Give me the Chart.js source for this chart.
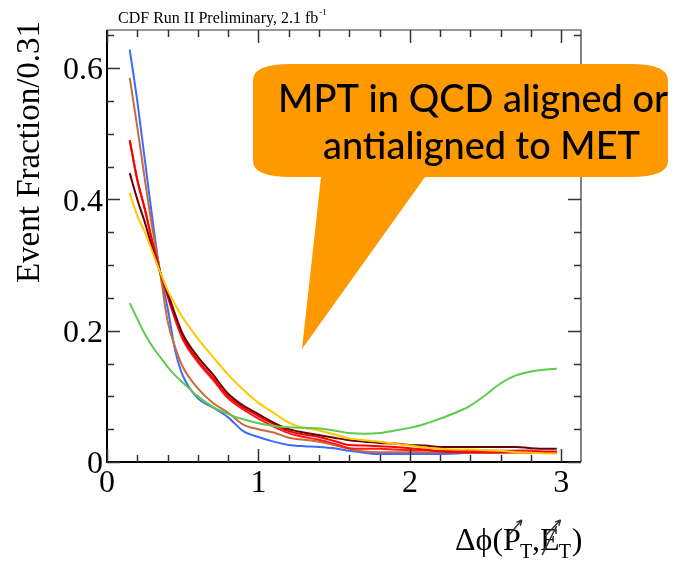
<!DOCTYPE html>
<html>
<head>
<meta charset="utf-8">
<script src="https://cdn.jsdelivr.net/npm/chart.js@4/dist/chart.umd.min.js"></script>
<style>
  html, body { margin: 0; padding: 0; background: #fff; }
  canvas { display: block; }
</style>
</head>
<body>
<canvas id="dphiChart" width="677" height="564"></canvas>
<script>
// delta-phi bin centres (shared by every sample)
const dphi = [0.15, 0.2, 0.25, 0.3, 0.35, 0.4, 0.45, 0.5, 0.6, 0.7, 0.8, 0.9, 1.0, 1.1, 1.2, 1.3, 1.4,
              1.5, 1.6, 1.7, 1.8, 1.9, 2.0, 2.1, 2.2, 2.3, 2.4, 2.5, 2.6, 2.7, 2.8, 2.9, 2.97];

// event fraction per sample
const blueFrac   = [0.628, 0.55, 0.46, 0.37, 0.29, 0.235, 0.17, 0.132, 0.097, 0.083, 0.068, 0.047, 0.038, 0.031, 0.026, 0.024, 0.023,
                    0.021, 0.017, 0.014, 0.012, 0.012, 0.012, 0.012, 0.012, 0.013, 0.014, 0.014, 0.015, 0.017, 0.017, 0.015, 0.015];
const brownFrac  = [0.585, 0.51, 0.43, 0.355, 0.29, 0.215, 0.175, 0.145, 0.112, 0.09, 0.075, 0.057, 0.05, 0.045, 0.037, 0.034, 0.031,
                    0.026, 0.02, 0.016, 0.015, 0.015, 0.015, 0.015, 0.015, 0.015, 0.014, 0.014, 0.014, 0.014, 0.014, 0.014, 0.014];
const redFrac    = [0.49, 0.43, 0.385, 0.335, 0.29, 0.255, 0.22, 0.19, 0.155, 0.128, 0.1, 0.083, 0.07, 0.058, 0.047, 0.042, 0.038,
                    0.032, 0.026, 0.025, 0.024, 0.023, 0.021, 0.019, 0.016, 0.015, 0.015, 0.015, 0.015, 0.015, 0.015, 0.015, 0.015];
const red2Frac   = [0.49, 0.43, 0.385, 0.335, 0.29, 0.252, 0.217, 0.187, 0.152, 0.125, 0.097, 0.08, 0.066, 0.054, 0.044, 0.038, 0.034,
                    0.028, 0.021, 0.02, 0.02, 0.019, 0.018, 0.018, 0.017, 0.017, 0.017, 0.017, 0.017, 0.017, 0.017, 0.016, 0.016];
const maroonFrac = [0.44, 0.4, 0.365, 0.325, 0.29, 0.258, 0.225, 0.195, 0.16, 0.133, 0.104, 0.086, 0.073, 0.06, 0.05, 0.045, 0.041,
                    0.037, 0.033, 0.031, 0.029, 0.028, 0.026, 0.025, 0.023, 0.023, 0.023, 0.023, 0.023, 0.023, 0.021, 0.02, 0.02];
const yellowFrac = [0.41, 0.375, 0.35, 0.32, 0.29, 0.262, 0.24, 0.22, 0.188, 0.16, 0.133, 0.11, 0.09, 0.075, 0.06, 0.052, 0.048,
                    0.042, 0.036, 0.033, 0.031, 0.028, 0.025, 0.022, 0.02, 0.019, 0.019, 0.018, 0.017, 0.015, 0.014, 0.013, 0.013];
const greenFrac  = [0.242, 0.218, 0.195, 0.176, 0.16, 0.145, 0.132, 0.121, 0.1, 0.084, 0.073, 0.065, 0.059, 0.055, 0.053, 0.052, 0.051,
                    0.048, 0.044, 0.043, 0.044, 0.048, 0.052, 0.058, 0.066, 0.075, 0.086, 0.102, 0.12, 0.132, 0.138, 0.141, 0.142];

// axis labels
const xTickLabels = ['0', '1', '2', '3'];
const yTickLabels = ['0', '0.2', '0.4', '0.6'];

const SERIF = '"Liberation Serif", "DejaVu Serif", serif';

function series(vals, color) {
    return {
        data: dphi.map((x, i) => ({x: x, y: vals[i]})),
        borderColor: color,
        borderWidth: 2,
        pointRadius: 0,
        cubicInterpolationMode: 'monotone',
        fill: false
    };
}

// draw the ROOT-style frame, inward ticks, labels, titles and the callout
const decorations = {
    id: 'decorations',
    afterDraw(chart) {
        const ctx = chart.ctx;
        const a = chart.chartArea;
        const xs = chart.scales.x, ys = chart.scales.y;
        ctx.save();

        // frame
        ctx.strokeStyle = '#000';
        ctx.lineWidth = 2;
        ctx.beginPath();
        ctx.moveTo(a.left, a.top); ctx.lineTo(a.left, a.bottom); ctx.lineTo(a.right, a.bottom);
        ctx.stroke();
        ctx.lineWidth = 1.2;
        ctx.strokeStyle = '#333';
        ctx.beginPath();
        ctx.moveTo(a.left, a.top); ctx.lineTo(a.right, a.top); ctx.lineTo(a.right, a.bottom);
        ctx.stroke();

        // x ticks (bottom and top), every 0.2
        ctx.lineWidth = 1.5;
        for (let k = 0; k <= 15; k++) {
            const v = k * 0.2;
            if (v > xs.max) break;
            const px = Math.round(xs.getPixelForValue(v)) + 0.5;
            const len = (k % 5 === 0) ? 13 : 7;
            ctx.beginPath();
            ctx.moveTo(px, a.bottom); ctx.lineTo(px, a.bottom - len);
            ctx.moveTo(px, a.top); ctx.lineTo(px, a.top + len);
            ctx.stroke();
        }
        // y ticks (left and right), every 0.05
        for (let k = 0; k <= 13; k++) {
            const v = k * 0.05;
            if (v > ys.max) break;
            const py = Math.round(ys.getPixelForValue(v)) + 0.5;
            const len = (k % 4 === 0) ? 13 : 7;
            ctx.beginPath();
            ctx.moveTo(a.left, py); ctx.lineTo(a.left + len, py);
            ctx.moveTo(a.right, py); ctx.lineTo(a.right - len, py);
            ctx.stroke();
        }

        // tick labels
        ctx.fillStyle = '#000';
        ctx.font = '32px ' + SERIF;
        ctx.textAlign = 'center';
        ctx.textBaseline = 'top';
        xTickLabels.forEach((t, i) => {
            ctx.fillText(t, xs.getPixelForValue(i), a.bottom + 6);
        });
        ctx.textAlign = 'right';
        ctx.textBaseline = 'middle';
        yTickLabels.forEach((t, i) => {
            ctx.fillText(t, a.left - 4, ys.getPixelForValue(i * 0.2) + 3);
        });

        // y title
        ctx.save();
        ctx.translate(30, 152);
        ctx.rotate(-Math.PI / 2);
        ctx.textAlign = 'center';
        ctx.textBaseline = 'middle';
        ctx.font = '33px ' + SERIF;
        ctx.fillText('Event Fraction/0.31', 0, 0);
        ctx.restore();

        // top caption
        ctx.textAlign = 'left';
        ctx.textBaseline = 'alphabetic';
        ctx.font = '16px ' + SERIF;
        ctx.fillText('CDF Run II Preliminary, 2.1 fb', 118, 23);
        let w = ctx.measureText('CDF Run II Preliminary, 2.1 fb').width;
        ctx.font = '9px ' + SERIF;
        ctx.fillText('-1', 118 + w + 1, 15);

        // x title: delta-phi(P_T vector, missing E_T vector)
        let cx = 455;
        const base = 550;
        ctx.font = '32px ' + SERIF;
        ctx.fillText('\u0394\u03d5(', cx, base);
        cx += ctx.measureText('\u0394\u03d5(').width;
        const pW = ctx.measureText('P').width;
        ctx.fillText('P', cx, base);
        drawArrow(ctx, cx + 5, base - 14, cx + pW + 1, base - 30);
        cx += pW;
        ctx.font = '20px ' + SERIF;
        ctx.fillText('T', cx - 1, base + 8);
        cx += ctx.measureText('T').width - 1;
        ctx.font = '32px ' + SERIF;
        ctx.fillText(',', cx, base);
        cx += ctx.measureText(',').width;
        const eW = ctx.measureText('E').width;
        ctx.fillText('E', cx, base);
        ctx.lineWidth = 1.6;
        ctx.beginPath();
        ctx.moveTo(cx + 2, base + 5); ctx.lineTo(cx + eW - 3, base - 24);
        ctx.stroke();
        drawArrow(ctx, cx + 5, base - 14, cx + eW + 1, base - 30);
        cx += eW;
        ctx.font = '20px ' + SERIF;
        ctx.fillText('T', cx - 1, base + 8);
        cx += ctx.measureText('T').width;
        ctx.font = '32px ' + SERIF;
        ctx.fillText(')', cx, base);

        // orange callout
        drawCallout(ctx);
        ctx.restore();
    }
};

function drawArrow(ctx, x1, y1, x2, y2) {
    const ang = Math.atan2(y2 - y1, x2 - x1);
    ctx.lineWidth = 1.4;
    ctx.beginPath();
    ctx.moveTo(x1, y1); ctx.lineTo(x2, y2);
    ctx.moveTo(x2, y2); ctx.lineTo(x2 - 6 * Math.cos(ang - 0.45), y2 - 6 * Math.sin(ang - 0.45));
    ctx.moveTo(x2, y2); ctx.lineTo(x2 - 6 * Math.cos(ang + 0.45), y2 - 6 * Math.sin(ang + 0.45));
    ctx.stroke();
}

function drawCallout(ctx) {
    const L = 253, R = 668, T = 64, B = 177, rx = 38, ry = 16;
    ctx.fillStyle = '#ff9900';
    ctx.beginPath();
    ctx.moveTo(L + rx, T);
    ctx.lineTo(R - rx, T);
    ctx.quadraticCurveTo(R, T, R, T + ry);
    ctx.lineTo(R, B - ry);
    ctx.quadraticCurveTo(R, B, R - rx, B);
    ctx.lineTo(425, B);
    ctx.lineTo(302, 349);
    ctx.lineTo(321, B);
    ctx.lineTo(L + rx, B);
    ctx.quadraticCurveTo(L, B, L, B - ry);
    ctx.lineTo(L, T + ry);
    ctx.quadraticCurveTo(L, T, L + rx, T);
    ctx.closePath();
    ctx.fill();

    ctx.fillStyle = '#000';
    ctx.textAlign = 'left';
    ctx.textBaseline = 'alphabetic';
    ctx.font = '500 38px Lato, "Noto Sans", sans-serif';
    ctx.fillText('MPT in QCD aligned or', 278, 112);
    ctx.fillText('antialigned to MET', 323, 159, 317);
}

new Chart(document.getElementById('dphiChart'), {
    type: 'line',
    data: {
        datasets: [
            series(greenFrac, '#5ccb4e'),
            series(yellowFrac, '#ffc800'),
            series(maroonFrac, '#6a0000'),
            series(redFrac, '#ff0000'),
            series(red2Frac, '#ff1a1a'),
            series(brownFrac, '#c96a3c'),
            series(blueFrac, '#3a6bff')
        ]
    },
    options: {
        responsive: false,
        animation: false,
        layout: { padding: { left: 107, right: 96, top: 30, bottom: 102 } },
        plugins: { legend: { display: false }, tooltip: { enabled: false } },
        scales: {
            x: { type: 'linear', min: 0, max: 3.13, display: false },
            y: { type: 'linear', min: 0, max: 0.658, display: false }
        }
    },
    plugins: [decorations]
});
</script>
</body>
</html>
